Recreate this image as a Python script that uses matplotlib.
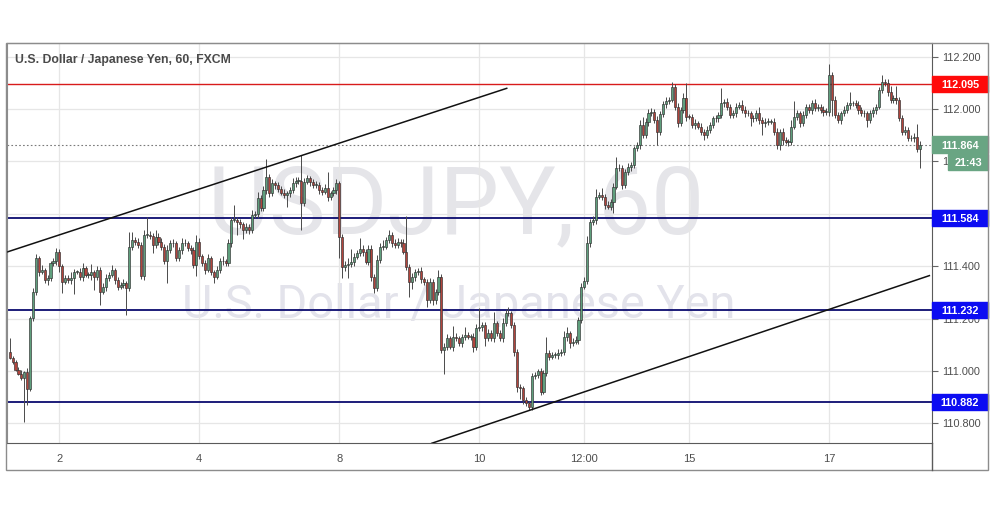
import matplotlib
matplotlib.use("Agg")
import matplotlib.pyplot as plt
import matplotlib.transforms as mtransforms
from matplotlib.patches import Rectangle
from matplotlib.lines import Line2D

# USD/JPY hourly candles, FXCM (April 2019)
first_open = 111.074
closes = [
    111.049, 111.035, 111.005, 110.990, 110.975, 110.995, 110.930, 111.201, 111.303, 111.430,
    111.379, 111.386, 111.348, 111.354, 111.411, 111.418, 111.456, 111.399, 111.341, 111.354,
    111.348, 111.354, 111.379, 111.379, 111.360, 111.392, 111.367, 111.367, 111.379, 111.360,
    111.386, 111.303, 111.322, 111.354, 111.367, 111.386, 111.348, 111.322, 111.329, 111.335,
    111.316, 111.475, 111.500, 111.494, 111.481, 111.363, 111.519, 111.519, 111.516, 111.481,
    111.513, 111.494, 111.475, 111.418, 111.462, 111.488, 111.488, 111.430, 111.462, 111.488,
    111.488, 111.469, 111.462, 111.405, 111.494, 111.437, 111.411, 111.386, 111.430, 111.379,
    111.360, 111.386, 111.418, 111.418, 111.411, 111.488, 111.577, 111.577, 111.570, 111.560,
    111.540, 111.550, 111.538, 111.595, 111.600, 111.659, 111.621, 111.690, 111.739, 111.678,
    111.716, 111.710, 111.695, 111.680, 111.672, 111.678, 111.690, 111.716, 111.727, 111.727,
    111.643, 111.723, 111.735, 111.720, 111.710, 111.710, 111.690, 111.685, 111.700, 111.665,
    111.678, 111.690, 111.716, 111.510, 111.398, 111.405, 111.410, 111.417, 111.436, 111.450,
    111.467, 111.455, 111.417, 111.467, 111.360, 111.316, 111.424, 111.475, 111.475, 111.500,
    111.519, 111.490, 111.480, 111.494, 111.490, 111.455, 111.398, 111.341, 111.360, 111.379,
    111.380, 111.350, 111.340, 111.270, 111.340, 111.270, 111.300, 111.360, 111.080, 111.093,
    111.125, 111.093, 111.131, 111.125, 111.106, 111.131, 111.138, 111.131, 111.131, 111.093,
    111.163, 111.169, 111.176, 111.125, 111.144, 111.125, 111.182, 111.144, 111.125, 111.182,
    111.220, 111.220, 111.176, 111.074, 110.940, 110.934, 110.890, 110.877, 110.864, 110.979,
    110.985, 110.998, 110.921, 110.991, 111.068, 111.055, 111.061, 111.061, 111.068, 111.074,
    111.131, 111.144, 111.106, 111.112, 111.119, 111.195, 111.322, 111.345, 111.487, 111.570,
    111.577, 111.665, 111.672, 111.665, 111.634, 111.627, 111.646, 111.704, 111.774, 111.774,
    111.710, 111.761, 111.780, 111.786, 111.850, 111.863, 111.939, 111.901, 111.952, 111.984,
    111.990, 111.958, 111.914, 111.980, 112.020, 112.030, 112.035, 112.085, 112.009, 111.945,
    111.996, 112.041, 111.971, 111.970, 111.939, 111.945, 111.933, 111.914, 111.901, 111.920,
    111.939, 111.964, 111.964, 111.977, 112.022, 112.028, 112.009, 111.977, 111.983, 112.009,
    112.015, 111.996, 111.983, 111.983, 111.964, 111.964, 111.983, 111.958, 111.945, 111.952,
    111.952, 111.952, 111.914, 111.863, 111.914, 111.882, 111.875, 111.875, 111.933, 111.971,
    111.983, 111.945, 111.977, 112.009, 111.996, 112.022, 112.003, 112.009, 111.996, 111.990,
    111.990, 112.130, 112.034, 111.977, 111.958, 111.983, 111.996, 112.015, 112.022, 112.022,
    112.015, 111.996, 111.983, 111.983, 111.958, 111.983, 111.996, 112.009, 112.073, 112.104,
    112.098, 112.066, 112.034, 112.041, 112.034, 111.964, 111.914, 111.920, 111.888, 111.888,
    111.894, 111.846, 111.864,
]
# wick lengths above / below the body, in thousandths of a yen
upper_wick = [
    50, 8, 6, 10, 12, 6, 15, 10, 12, 15, 10, 18, 8, 12, 10, 15, 12, 8, 10, 14,
    12, 25, 10, 8, 15, 20, 10, 12, 30, 8, 15, 10, 12, 18, 10, 20, 8, 10, 12, 15,
    10, 57, 30, 12, 15, 10, 20, 70, 15, 10, 25, 12, 15, 10, 20, 12, 15, 10, 12, 20,
    15, 10, 12, 10, 25, 15, 10, 12, 15, 10, 8, 15, 12, 20, 10, 15, 12, 57, 10, 12,
    10, 15, 12, 20, 10, 25, 12, 15, 70, 12, 15, 10, 12, 10, 15, 10, 12, 20, 15, 12,
    97, 15, 12, 10, 12, 15, 10, 12, 15, 60, 10, 12, 15, 10, 12, 15, 20, 50, 15, 12,
    40, 15, 10, 12, 15, 10, 20, 15, 25, 12, 20, 10, 12, 15, 10, 12, 135, 10, 15, 12,
    12, 15, 10, 12, 15, 10, 12, 25, 10, 12, 15, 10, 40, 15, 10, 12, 30, 10, 12, 15,
    15, 71, 12, 10, 15, 12, 45, 10, 12, 20, 15, 26, 10, 12, 10, 12, 10, 12, 10, 15,
    12, 10, 15, 12, 60, 12, 10, 12, 15, 10, 20, 25, 10, 12, 15, 10, 12, 15, 30, 12,
    15, 30, 12, 25, 12, 15, 10, 12, 44, 15, 12, 10, 15, 12, 10, 12, 20, 31, 12, 15,
    12, 10, 15, 12, 10, 15, 12, 19, 10, 15, 12, 20, 57, 10, 12, 15, 10, 12, 10, 15,
    12, 10, 15, 12, 57, 12, 15, 10, 12, 15, 12, 20, 15, 12, 10, 12, 15, 26, 12, 15,
    12, 10, 15, 12, 10, 15, 12, 10, 25, 60, 12, 10, 15, 12, 10, 12, 15, 10, 12, 15,
    12, 42, 10, 15, 12, 10, 15, 12, 44, 10, 12, 15, 10, 12, 10, 15, 12, 10, 12, 26,
    12, 15, 20, 12, 45, 10, 12, 15, 10, 12, 15, 50, 12,
]
lower_wick = [
    5, 8, 5, 6, 10, 168, 60, 8, 10, 12, 15, 10, 12, 20, 10, 12, 15, 20, 44, 10,
    12, 15, 60, 10, 12, 15, 10, 12, 20, 50, 12, 51, 10, 15, 12, 10, 15, 12, 10, 12,
    102, 10, 12, 15, 10, 12, 15, 10, 12, 30, 10, 15, 12, 10, 83, 12, 15, 10, 12, 15,
    12, 10, 15, 12, 42, 10, 12, 15, 10, 12, 25, 10, 12, 15, 10, 12, 15, 10, 50, 15,
    35, 12, 15, 10, 12, 15, 10, 12, 15, 12, 10, 15, 12, 10, 12, 45, 15, 10, 12, 15,
    105, 12, 10, 15, 12, 10, 15, 12, 10, 15, 12, 10, 15, 80, 45, 15, 50, 12, 15, 10,
    12, 15, 10, 12, 15, 20, 10, 12, 15, 10, 12, 15, 10, 12, 15, 10, 12, 57, 30, 15,
    12, 15, 10, 25, 12, 20, 15, 10, 10, 90, 12, 10, 15, 12, 10, 15, 12, 10, 12, 20,
    12, 10, 15, 30, 12, 10, 15, 12, 10, 15, 12, 10, 12, 15, 20, 40, 15, 10, 13, 12,
    10, 12, 12, 10, 12, 15, 10, 12, 15, 10, 12, 15, 20, 12, 10, 15, 12, 10, 12, 15,
    12, 15, 10, 12, 15, 10, 12, 44, 10, 12, 15, 10, 12, 15, 10, 12, 15, 10, 12, 15,
    12, 10, 51, 12, 10, 15, 12, 10, 12, 15, 10, 12, 15, 10, 12, 15, 10, 12, 20, 10,
    12, 10, 15, 12, 10, 15, 12, 10, 12, 15, 10, 12, 15, 10, 30, 12, 10, 15, 45, 12,
    12, 10, 15, 15, 20, 20, 10, 15, 12, 10, 12, 15, 10, 12, 10, 15, 12, 10, 12, 15,
    12, 15, 60, 10, 12, 15, 10, 12, 15, 10, 12, 15, 10, 12, 25, 10, 12, 15, 10, 12,
    12, 15, 10, 12, 15, 10, 12, 15, 10, 12, 15, 10, 72,
]

# bar index of each date label on the time axis
tick_bars = [17, 65, 113, 161, 197, 233, 281]
tick_labels = ["2", "4", "8", "10", "12:00", "15", "17"]
price_ticks = [110.8, 111.0, 111.2, 111.4, 111.6, 111.8, 112.0, 112.2]

resistance = 112.095
supports = [111.584, 111.232, 110.882]
last_price = 111.864
countdown = "21:43"

# channel lines: (bar, price) end points
upper_channel = ([-0.93, 170.4], [111.454, 112.079])
lower_channel = ([144.7, 315.3], [110.724, 111.364])

opens = [first_open] + closes[:-1]
highs = [max(o, c) + u / 1000 for o, c, u in zip(opens, closes, upper_wick)]
lows = [min(o, c) - d / 1000 for o, c, d in zip(opens, closes, lower_wick)]

UP = "#5f9f7d"
DOWN = "#b1443c"
EDGE = "#2f2f2f"
LABEL = "#4d4d4d"
FONT = ["Liberation Sans", "DejaVu Sans"]

W, H = 995, 507
fig = plt.figure(figsize=(W / 100, H / 100), dpi=100)
ax = fig.add_axes([7 / W, 1 - 443 / H, 925 / W, 400 / H])
ax.set_xlim(-0.93, 316.2)
ax.set_ylim(110.725, 112.252)

# watermark
ax.text(0.4854, 0.525, "USDJPY, 60", transform=ax.transAxes, ha="center", va="baseline",
        fontsize=68, color="#e5e5e9", family=["Roboto", "DejaVu Sans"], zorder=0)
ax.text(0.4886, 0.3125, "U.S. Dollar / Japanese Yen", transform=ax.transAxes, ha="center",
        va="baseline", fontsize=33.8, color="#e3e3eb", family=["Roboto", "DejaVu Sans"], zorder=0)

# horizontal levels
ax.axhline(resistance, color="#d81b1b", lw=1.0, zorder=2)
for s in supports:
    ax.axhline(s, color="#0b0b6e", lw=1.3, zorder=2)
ax.axhline(last_price, color="#7a7a7a", lw=0.8, ls=(0, (1.5, 2)), zorder=2)

# candles
xs = list(range(len(closes)))
ax.vlines(xs, lows, highs, color="#4a4a4a", lw=0.7, zorder=3)
bottoms = [min(o, c) for o, c in zip(opens, closes)]
heights = [max(abs(c - o), 0.002) for o, c in zip(opens, closes)]
colors = [UP if c >= o else DOWN for o, c in zip(opens, closes)]
ax.bar(xs, heights, bottom=bottoms, width=0.72, color=colors, edgecolor=EDGE,
       linewidth=0.45, zorder=4)

# trend channel
ax.plot(*upper_channel, color="#111111", lw=1.1, zorder=5)
ax.plot(*lower_channel, color="#111111", lw=1.1, zorder=5)

ax.text(8 / 925, 0.9575, "U.S. Dollar / Japanese Yen, 60, FXCM", transform=ax.transAxes,
        ha="left", va="center", fontsize=8.8, fontweight="bold", color="#4a4a4a",
        family=FONT, zorder=6)

# axes styling
ax.set_xticks(tick_bars)
ax.set_xticklabels(tick_labels)
ax.set_yticks(price_ticks)
ax.set_yticklabels([f"{p:.3f}" for p in price_ticks])
ax.yaxis.tick_right()
ax.tick_params(axis="x", length=0, pad=8, labelsize=8, labelcolor=LABEL)
ax.tick_params(axis="y", length=4, width=0.8, color="#666666", pad=3, labelsize=7.8,
               labelcolor=LABEL)
for lab in ax.get_xticklabels() + ax.get_yticklabels():
    lab.set_family(FONT)
ax.grid(True, color="#e6e6e6", lw=0.9)
ax.set_axisbelow(True)
for side in ["left", "top"]:
    ax.spines[side].set_color("#8c8c8c")
for side in ["right", "bottom"]:
    ax.spines[side].set_color("#5a5a5a")

# price-scale labels
trans = mtransforms.blended_transform_factory(ax.transAxes, ax.transData)
box_h = 16.4 / 262


def price_box(y, text, color, x0=1.0, w=56 / 925):
    ax.add_patch(Rectangle((x0, y - box_h / 2), w, box_h, transform=trans, color=color,
                           clip_on=False, zorder=6))
    ax.text(x0 + w / 2, y, text, transform=trans, ha="center", va="center_baseline",
            color="white", fontsize=7.8, fontweight="bold", family=FONT, clip_on=False,
            zorder=7)


price_box(resistance, f"{resistance:.3f}", "#ff0a0a")
for s in supports:
    price_box(s, f"{s:.3f}", "#0c0cf2")
price_box(last_price, f"{last_price:.3f}", "#69a583")
price_box(last_price - box_h - 0.004, countdown, "#69a583", x0=941.3 / 925, w=40 / 925)

# outer frame
fig.add_artist(Rectangle((6 / W, 1 - 470 / H), 982 / W, 427 / H, transform=fig.transFigure,
                         fill=False, ec="#8c8c8c", lw=1))
fig.add_artist(Line2D([932 / W, 932 / W], [1 - 470 / H, 1 - 443 / H],
                      transform=fig.transFigure, color="#5a5a5a", lw=1))

fig.savefig("out.png", dpi=100, facecolor="white")
